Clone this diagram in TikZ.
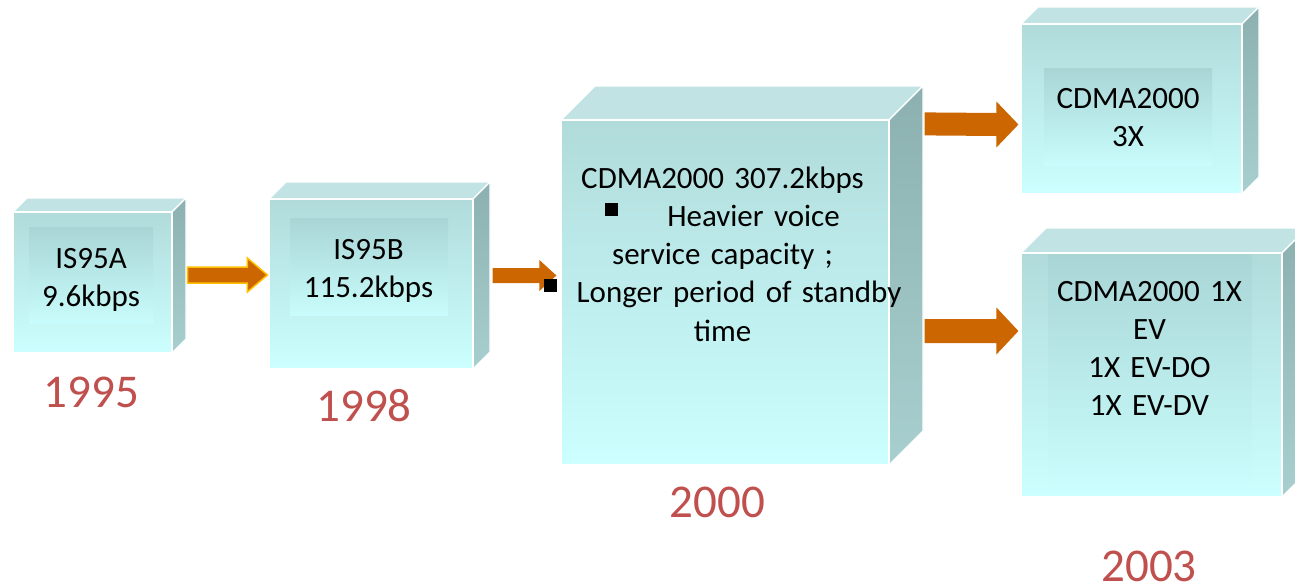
\documentclass[tikz,border=0pt]{standalone}
\usepackage{fontspec}
\setmainfont{Carlito}
\usetikzlibrary{calc,fit}

\definecolor{facetop}{HTML}{C1E3E3}
\definecolor{sidehi}{HTML}{8CB0B0}
\definecolor{sidelo}{HTML}{A8CFCF}
\definecolor{fronthi}{HTML}{B1DBDB}
\definecolor{frontlo}{HTML}{CCFFFF}
\definecolor{innerhi}{HTML}{A9D5D5}
\definecolor{innerlo}{HTML}{C9FCFC}
\definecolor{arrowfill}{HTML}{CC6600}
\definecolor{arrowrim}{HTML}{FFC000}
\definecolor{yearred}{HTML}{C0504D}

\tikzset{
  edge/.style={draw=white, line width=1.2pt},
  topfacestyle/.style={edge, fill=facetop},
  sidefacestyle/.style={edge, top color=sidehi, bottom color=sidelo},
  frontfacestyle/.style={edge, top color=fronthi, bottom color=frontlo, inner sep=0pt},
  innerpanel/.style={top color=innerhi, bottom color=innerlo},
  blockarrowstyle/.style={fill=arrowfill},
  rimmedarrow/.style={fill=arrowfill, draw=arrowrim, line width=1.5pt, line join=miter},
  boxtext/.style={font=\fontsize{31}{38.3}\selectfont, align=center, text width=360pt, inner sep=0pt, anchor=base},
  yearlabel/.style={font=\fontsize{47}{56}\selectfont, text=yearred, inner sep=0pt, anchor=base},
}

% a 3-D block: name, left, top, right, bottom (front face), depth
\newcommand\cubebox[6]{%
  \path[topfacestyle] (#2,#3) -- ++(#6,-#6) -- (#4+#6,#3-#6) -- (#4,#3) -- cycle;
  \path[sidefacestyle] (#4,#3) -- (#4+#6,#3-#6) -- (#4+#6,#5-#6) -- (#4,#5) -- cycle;
  \node[fit={(#2,#3) (#4,#5)}, frontfacestyle] (#1) {};
}

% a block arrow: style, tail, tip, half shaft, half head, head length
\newcommand\blockarrow[6]{%
  \path[#1] ($(#2)+(0,-#4)$) -- ($(#3)+(-#6,-#4)$) -- ($(#3)+(-#6,-#5)$) -- (#3)
    -- ($(#3)+(-#6,#5)$) -- ($(#3)+(-#6,#4)$) -- ($(#2)+(0,#4)$) -- cycle;
}

\newcommand\sqbullet{\raisebox{10.5pt}{\rule{13pt}{13pt}}}

\begin{document}
\begin{tikzpicture}[x=1pt, y=-1pt]
  \useasboundingbox (0,0) rectangle (1295,584);
  \fill[white] (0,0) rectangle (1295,584);

  % blocks
  \cubebox{is95a}{13}{212}{172}{353}{14}
  \fill[innerpanel] (29,227) rectangle (153,323);

  \cubebox{is95b}{269}{199}{473}{369}{17}
  \fill[innerpanel] (290,218) rectangle (448,315);

  \cubebox{cdma}{561}{120}{889}{465}{34}

  \cubebox{threex}{1021}{24}{1242}{194}{17}
  \fill[innerpanel] (1044,68) rectangle (1212,165);

  \cubebox{onex}{1021}{253}{1282}{497}{25}
  \fill[innerpanel] (1048,254) rectangle (1252,482);

  % arrow end points, taken from the blocks they join
  \path (is95a.east) ++(15,-7.5) coordinate (a1s);
  \path (is95b.west) ++(-1,-9) coordinate (a1e);
  \path (is95b.east) ++(19,-8.5) coordinate (a2s);
  \path (cdma.west) ++(-4,-17) coordinate (a2e);
  \path (cdma.north east) ++(35,4.5) coordinate (a3s);
  \path (threex.west) ++(-2,15.5) coordinate (a3e);
  \path (cdma.east) ++(35,38.5) coordinate (a4s);
  \path (onex.west) ++(-2,-44) coordinate (a4e);

  \blockarrow{rimmedarrow}{a1s}{a1e}{8}{17}{20}
  \blockarrow{blockarrowstyle}{a2s}{a2e}{7.5}{15.5}{17}
  \blockarrow{blockarrowstyle}{a3s}{a3e}{11.5}{23}{22}
  \blockarrow{blockarrowstyle}{a4s}{a4e}{12}{23.5}{22}

  % texts in the blocks
  \node[boxtext] (t1) at (91,268) {IS95A\\9.6kbps};
  \node[boxtext] (t2) at (368.5,259) {IS95B\\115.2kbps};
  \node[boxtext] (t3) at (722.5,188) {CDMA2000 307.2kbps\\
    \sqbullet\hspace{49pt}Heavier voice\\
    service capacity ;\\
    \sqbullet\hspace{20pt}Longer period of standby\\
    time};
  \node[boxtext] (t4) at (1128,108) {CDMA2000\\3X};
  \node[boxtext] (t5) at (1149.5,301) {CDMA2000 1X\\EV\\1X EV-DO\\1X EV-DV};

  % years
  \node[yearlabel] (y1) at (91.5,407) {1995};
  \node[yearlabel] (y2) at (364,421) {1998};
  \node[yearlabel] (y3) at (717.5,517) {2000};
  \node[yearlabel] (y4) at (1149,581) {2003};
\end{tikzpicture}
\end{document}
